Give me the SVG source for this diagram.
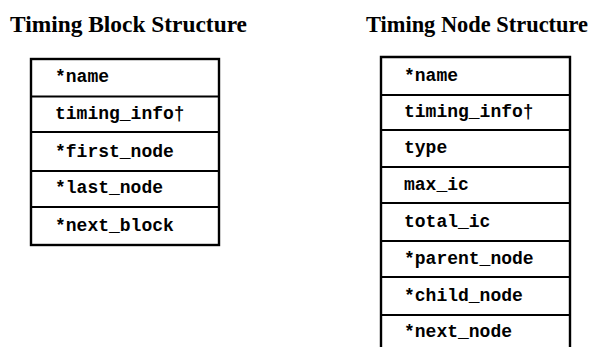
<svg xmlns="http://www.w3.org/2000/svg" width="596" height="347" viewBox="0 0 596 347">
  <style>
    .title { font-family: "Liberation Serif", "Times New Roman", serif; font-weight: bold; font-size: 23px; fill: #000; }
    .field { font-family: "Liberation Mono", "Courier New", monospace; font-weight: bold; font-size: 18px; fill: #000; }
    .frame { fill: none; stroke: #000; stroke-width: 2.4; }
    .rule { stroke: #000; stroke-width: 2; }
  </style>
  <rect width="596" height="347" fill="#fff"/>

  <!-- Timing block record -->
  <g id="timing-block">
    <text class="title" x="10" y="32" textLength="237" lengthAdjust="spacingAndGlyphs">Timing Block Structure</text>
    <rect class="frame" x="31" y="59" width="188" height="186"/>
    <line class="rule" x1="31" y1="96.5" x2="219" y2="96.5"/>
    <line class="rule" x1="31" y1="132" x2="219" y2="132"/>
    <line class="rule" x1="31" y1="171" x2="219" y2="171"/>
    <line class="rule" x1="31" y1="207" x2="219" y2="207"/>
    <text class="field" x="55" y="82">*name</text>
    <text class="field" x="55" y="119">timing_info†</text>
    <text class="field" x="55" y="156.5">*first_node</text>
    <text class="field" x="55" y="193">*last_node</text>
    <text class="field" x="55" y="230.5">*next_block</text>
  </g>

  <!-- Timing node record (continues below the frame) -->
  <g id="timing-node">
    <text class="title" x="366" y="32" textLength="222" lengthAdjust="spacingAndGlyphs">Timing Node Structure</text>
    <path class="frame" d="M381 347 V57 H570 V347"/>
    <line class="rule" x1="381" y1="95" x2="570" y2="95"/>
    <line class="rule" x1="381" y1="130" x2="570" y2="130"/>
    <line class="rule" x1="381" y1="167" x2="570" y2="167"/>
    <line class="rule" x1="381" y1="203" x2="570" y2="203"/>
    <line class="rule" x1="381" y1="241" x2="570" y2="241"/>
    <line class="rule" x1="381" y1="277" x2="570" y2="277"/>
    <line class="rule" x1="381" y1="315" x2="570" y2="315"/>
    <text class="field" x="404" y="80.5">*name</text>
    <text class="field" x="404" y="117">timing_info†</text>
    <text class="field" x="404" y="153">type</text>
    <text class="field" x="404" y="190">max_ic</text>
    <text class="field" x="404" y="227">total_ic</text>
    <text class="field" x="404" y="263.5">*parent_node</text>
    <text class="field" x="404" y="301">*child_node</text>
    <text class="field" x="404" y="336.5">*next_node</text>
  </g>
</svg>
